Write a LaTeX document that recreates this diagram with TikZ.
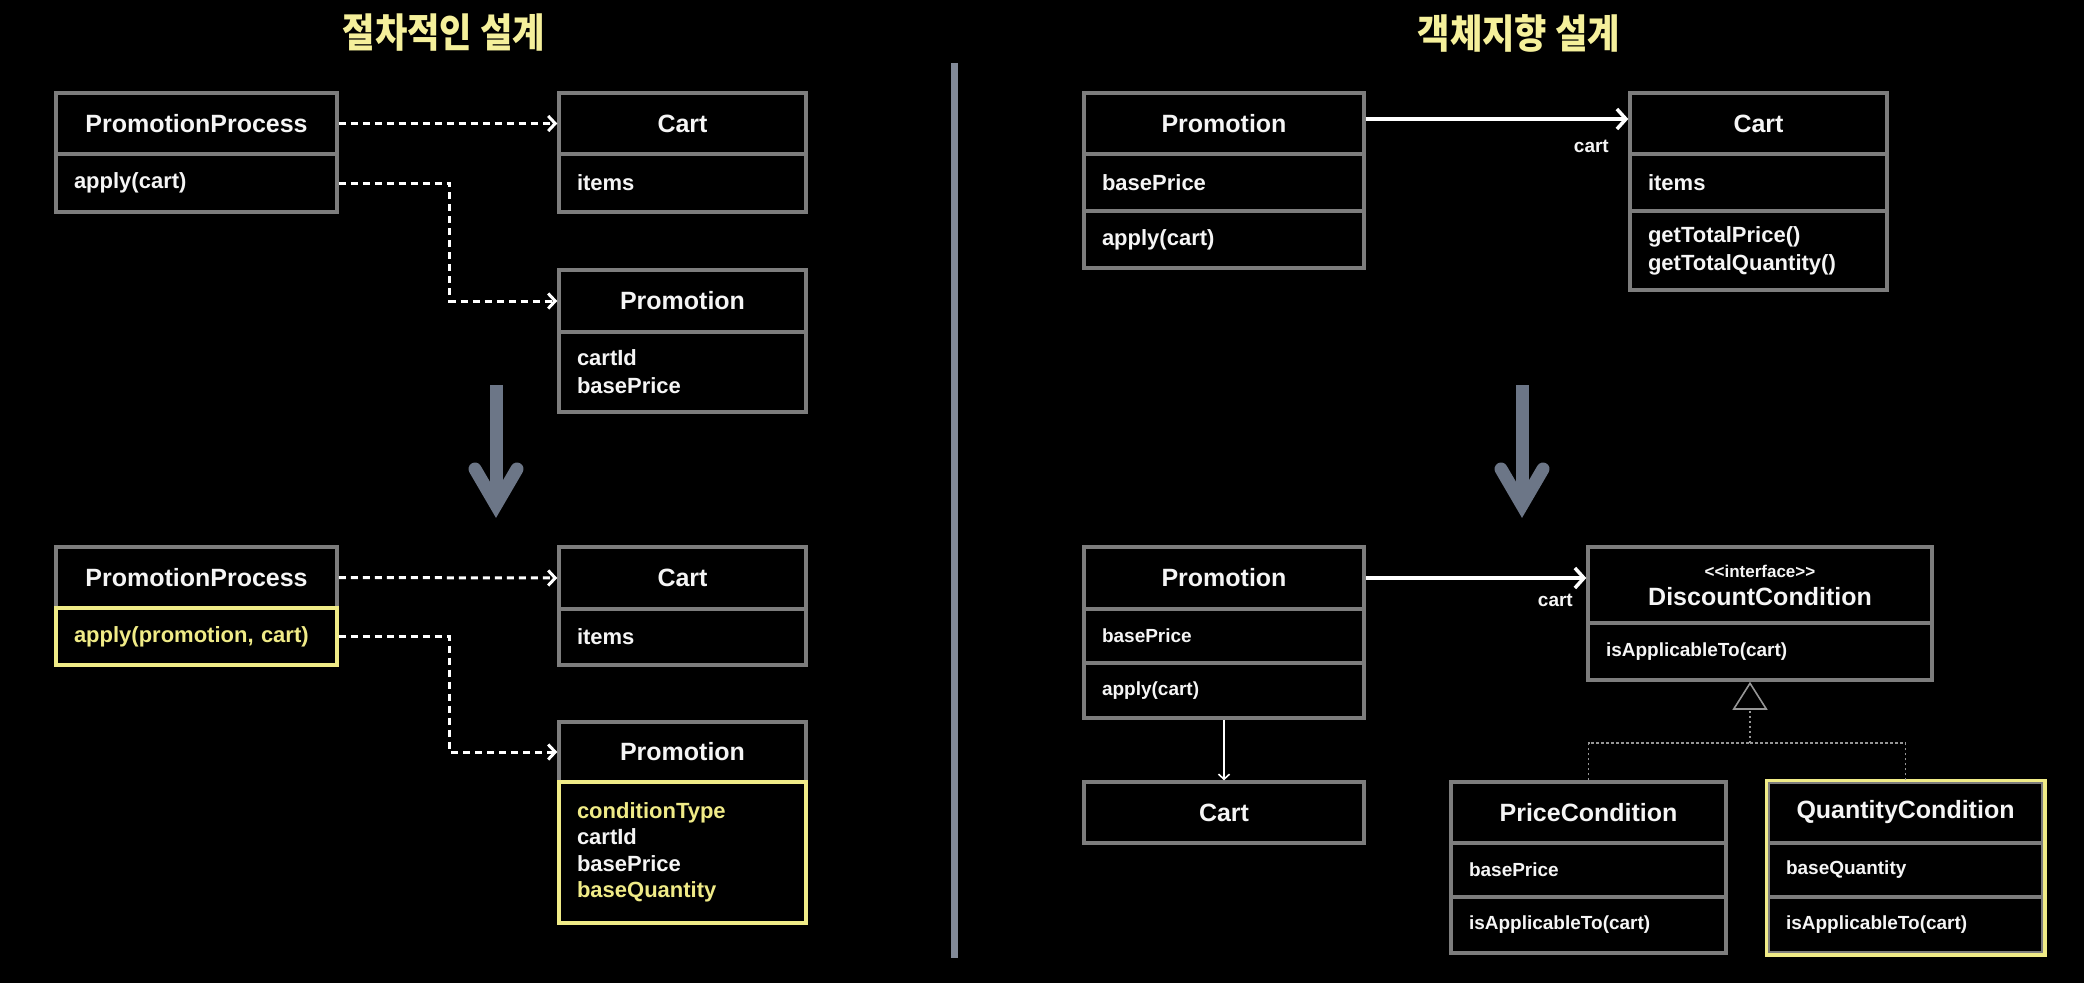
\documentclass[tikz,border=0pt]{standalone}
\usepackage{fontspec}
\setmainfont{Liberation Sans}[Ligatures=TeXOff]
\newfontfamily\kr{Noto Sans CJK KR}
\usetikzlibrary{arrows.meta}
\definecolor{boxgray}{RGB}{125,125,125}
\definecolor{hl}{RGB}{240,235,135}
\definecolor{titley}{RGB}{245,240,155}
\definecolor{slate}{RGB}{108,118,135}
\definecolor{divgray}{RGB}{130,138,152}
\definecolor{inhgray}{RGB}{150,150,150}
\definecolor{txt}{RGB}{245,245,245}
\tikzset{
  box/.style={draw=boxgray, line width=3.5pt, fill=black, inner sep=0pt, text=txt},
  hdr/.style={box, align=center, font=\bfseries\fontsize{25}{28}\selectfont},
  bodyt/.style={box, align=left, inner xsep=18pt, inner ysep=0pt, font=\bfseries\fontsize{22}{28}\selectfont},
  bodys/.style={bodyt, font=\bfseries\fontsize{19}{24}\selectfont},
  hlbox/.style={draw=hl},
  title/.style={text=titley, font=\kr\bfseries\fontsize{40}{44}\selectfont, inner sep=0pt},
  lbl/.style={text=txt, font=\bfseries\fontsize{19}{22}\selectfont, inner sep=0pt},
  dasharr/.style={draw=white, line width=3pt, dash pattern=on 7pt off 5pt, -{Straight Barb[length=7pt,width=15pt]}},
  solidarr/.style={draw=white, line width=3.5pt, -{Straight Barb[length=9pt,width=20pt]}},
  thinarr/.style={draw=white, line width=1.6pt, -{Straight Barb[length=5pt,width=11pt]}},
  inh/.style={draw=inhgray, line width=1.6pt, dash pattern=on 2.5pt off 2.5pt},
  downarr/.pic={
    \draw[slate, line width=13pt] (0,0) -- (0,115);
    \draw[slate, line width=13pt, line cap=round, line join=miter] (-21,84) -- (0,120) -- (21,84);
  },
}
\begin{document}
\begin{tikzpicture}[x=1pt,y=-1pt]
\useasboundingbox (0,0) rectangle (2084,982);
\fill[black] (-10,-10) rectangle (2094,992);

% titles
\node[title] (t1) at (444,33) {\scalebox{0.88}[1]{절차적인 설계}};
\node[title] (t2) at (1519,33) {\scalebox{0.88}[1]{객체지향 설계}};

% divider
\coordinate (dv1) at (954,63);
\coordinate (dv2) at (954,958);
\draw[divgray, line width=7pt] (dv1) -- (dv2);

% down arrows
\pic (da1) at (496,385) {downarr};
\pic (da2) at (1522,385) {downarr};

% ---------- left top ----------
\node[hdr, minimum width=281pt, minimum height=61pt] (pp1h) at (196.5,123.5) {PromotionProcess};
\node[bodyt, text width=245pt, minimum height=58pt] (pp1b) at (196.5,183) {apply(cart)};
\node[hdr, minimum width=247pt, minimum height=61pt] (cart1h) at (682.5,123.5) {Cart};
\node[bodyt, text width=211pt, minimum height=58pt] (cart1b) at (682.5,183) {items};
\node[hdr, minimum width=247pt, minimum height=62pt] (promo1h) at (682.5,301) {Promotion};
\node[bodyt, text width=211pt, minimum height=80pt] (promo1b) at (682.5,372) {cartId\\basePrice};

\draw[dasharr] (pp1h.east) -- (cart1h.west);
\draw[dasharr] (pp1b.east) -- ++(111,0) |- (promo1h.west);

% ---------- left bottom ----------
\node[hdr, minimum width=281pt, minimum height=61pt] (pp2h) at (196.5,577.5) {PromotionProcess};
\node[bodyt, hlbox, text=hl, text width=245pt, minimum height=57pt] (pp2b) at (196.5,636.5) {apply(promotion, cart)};
\node[hdr, minimum width=247pt, minimum height=62pt] (cart2h) at (682.5,578) {Cart};
\node[bodyt, text width=211pt, minimum height=56pt] (cart2b) at (682.5,637) {items};
\node[hdr, minimum width=247pt, minimum height=60pt] (promo2h) at (682.5,752) {Promotion};
\node[bodyt, hlbox, text width=211pt, minimum height=141pt, font=\bfseries\fontsize{22}{26.5}\selectfont] (promo2b) at (682.5,852.5)
  {\textcolor{hl}{conditionType}\\cartId\\basePrice\\\textcolor{hl}{baseQuantity}};

\draw[dasharr] (pp2h.east) -- (cart2h.west);
\draw[dasharr] (pp2b.east) -- ++(111,0) |- (promo2h.west);

% ---------- right top ----------
\node[hdr, minimum width=280pt, minimum height=61pt] (pr1h) at (1224,123.5) {Promotion};
\node[bodyt, text width=244pt, minimum height=57pt] (pr1a) at (1224,182.5) {basePrice};
\node[bodyt, text width=244pt, minimum height=57pt] (pr1m) at (1224,239.5) {apply(cart)};
\node[hdr, minimum width=257pt, minimum height=61pt] (cr1h) at (1758.5,123.5) {Cart};
\node[bodyt, text width=221pt, minimum height=57pt] (cr1a) at (1758.5,182.5) {items};
\node[bodyt, text width=221pt, minimum height=79pt] (cr1m) at (1758.5,250.5) {getTotalPrice()\\getTotalQuantity()};

\draw[solidarr] ([yshift=4.5pt]pr1h.east) -- ([yshift=4.5pt]cr1h.west);
\node[lbl, anchor=east] (l1) at (1609,146) {cart};

% ---------- right bottom ----------
\node[hdr, minimum width=280pt, minimum height=62pt] (pr2h) at (1224,578) {Promotion};
\node[bodys, text width=244pt, minimum height=54pt] (pr2a) at (1224,636) {basePrice};
\node[bodys, text width=244pt, minimum height=55pt] (pr2m) at (1224,690.5) {apply(cart)};
\node[hdr, minimum width=280pt, minimum height=61pt] (cr2) at (1224,812.5) {Cart};

\node[hdr, minimum width=344pt, minimum height=76pt] (dch) at (1760,585)
  {{\fontsize{17}{20}\selectfont <<interface>>}\\DiscountCondition};
\node[bodys, text width=308pt, minimum height=57pt] (dcb) at (1760,651.5) {isApplicableTo(cart)};

\node[hdr, minimum width=275pt, minimum height=61pt] (pch) at (1588.5,812.5) {PriceCondition};
\node[bodys, text width=239pt, minimum height=54pt] (pca) at (1588.5,870) {basePrice};
\node[bodys, text width=239pt, minimum height=56pt] (pcm) at (1588.5,925) {isApplicableTo(cart)};

\node[hdr, minimum width=275pt, minimum height=61pt] (qch) at (1905.5,812.5) {QuantityCondition};
\node[bodys, text width=239pt, minimum height=54pt] (qca) at (1905.5,870) {baseQuantity};
\node[bodys, text width=239pt, minimum height=56pt] (qcm) at (1905.5,925) {isApplicableTo(cart)};
\draw[hl, line width=3.5pt] (qch.north west) rectangle (qcm.south east);

\draw[solidarr] (pr2h.east) -- (pr2h.east -| dch.west);
\node[lbl, anchor=east] (l2) at (1573,600) {cart};
\draw[thinarr] (pr2m.south) -- (cr2.north);

\coordinate (jn) at (1750,743);
\draw[inh] (pch.north) |- (jn);
\draw[inh] (qch.north) |- (jn);
\draw[inh, -{Triangle[open, length=28pt, width=35pt, fill=black]}] (jn) -- (jn |- dcb.south);
\end{tikzpicture}
\end{document}
